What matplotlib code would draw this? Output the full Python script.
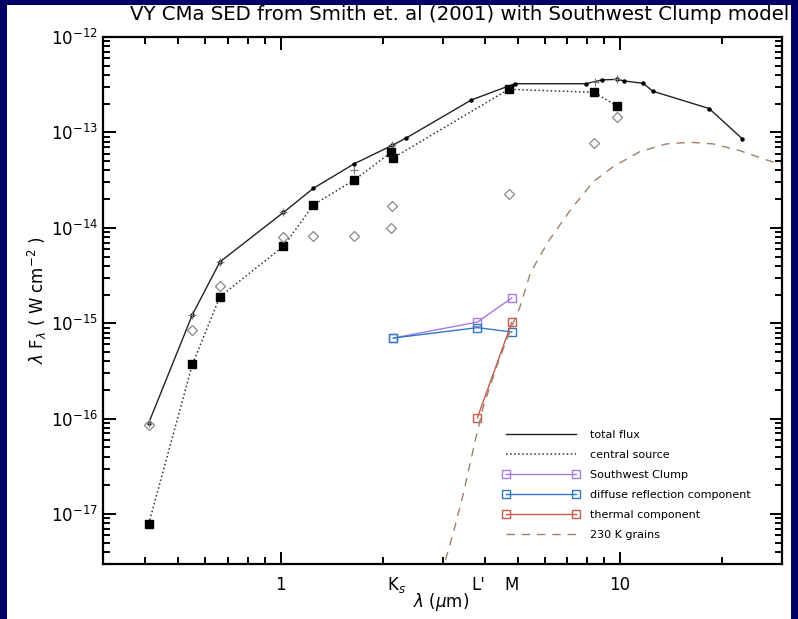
"""VY CMa SED (Smith et al. 2001) with the Southwest Clump model components."""
import matplotlib
matplotlib.use("Agg")
import matplotlib.pyplot as plt
from matplotlib.patches import Rectangle
from matplotlib.ticker import LogLocator, NullFormatter, FixedLocator, FixedFormatter

# total flux (solid line with small dots), microns / W cm^-2
tot_wl = [0.409, 0.55, 0.663, 1.02, 1.25, 1.65, 2.13, 2.34, 3.65, 4.9,
          7.94, 8.84, 9.78, 10.3, 11.7, 12.5, 18.3, 22.9]
tot_f = [9.0e-17, 1.23e-15, 4.4e-15, 1.45e-14, 2.6e-14, 4.7e-14, 7.3e-14,
         8.7e-14, 2.19e-13, 3.24e-13, 3.24e-13, 3.55e-13, 3.6e-13, 3.46e-13,
         3.27e-13, 2.7e-13, 1.78e-13, 8.6e-14]

# model total (grey crosses)
plus_wl = [0.409, 0.55, 0.663, 1.02, 1.65, 2.13, 8.44, 9.78]
plus_f = [9.0e-17, 1.23e-15, 4.4e-15, 1.45e-14, 4.05e-14, 7.3e-14, 3.4e-13, 3.6e-13]

# central source (filled squares, dotted)
cs_wl = [0.409, 0.55, 0.663, 1.02, 1.25, 1.65, 2.12, 2.14, 4.7, 8.4, 9.78]
cs_f = [7.9e-18, 3.7e-16, 1.9e-15, 6.4e-15, 1.74e-14, 3.18e-14, 6.2e-14,
        5.37e-14, 2.83e-13, 2.63e-13, 1.89e-13]

# extended / scattered light (open grey diamonds)
dia_wl = [0.409, 0.55, 0.663, 1.02, 1.25, 1.65, 2.13, 2.12, 4.7, 8.4, 9.78]
dia_f = [8.5e-17, 8.5e-16, 2.47e-15, 8.1e-15, 8.3e-15, 8.3e-15, 1.71e-14,
         1.0e-14, 2.27e-14, 7.7e-14, 1.44e-13]

# Southwest Clump model at Ks, L', M
sw_wl = [2.15, 3.8, 4.8]
sw_f = [7.0e-16, 1.03e-15, 1.84e-15]
refl_f = [7.0e-16, 9.0e-16, 8.1e-16]
therm_wl = [3.8, 4.8]
therm_f = [1.02e-16, 1.02e-15]

# 230 K grain emission
bb_wl = [3.06, 3.23, 3.46, 3.75, 3.96, 4.35, 4.8, 5.08, 5.45, 6.15, 7.21,
         8.35, 9.56, 11.45, 13.7, 16.1, 18.8, 22.5, 27.0, 30.0]
bb_f = [3.3e-18, 6.4e-18, 1.67e-17, 6.0e-17, 1.35e-16, 3.67e-16, 9.3e-16,
        1.5e-15, 3.4e-15, 7.2e-15, 1.61e-14, 3.05e-14, 4.39e-14, 6.3e-14,
        7.58e-14, 7.89e-14, 7.58e-14, 6.45e-14, 5.15e-14, 4.6e-14]

band_names = ["K$_s$", "L'", "M"]
band_wl = [2.2, 3.82, 4.8]

W, H = 798, 619
fig = plt.figure(figsize=(W / 100, H / 100), dpi=100, facecolor="#000066")
fig.patches.append(Rectangle((7 / W, 0), (791 - 7) / W, (H - 5) / H,
                             transform=fig.transFigure, facecolor="white",
                             edgecolor="none", zorder=-10))

ax = fig.add_axes([103 / W, 1 - 564 / H, (782 - 103) / W, (564 - 37) / H])
ax.set_zorder(1)
ax.set_xscale("log"); ax.set_yscale("log")
ax.set_xlim(0.3, 30); ax.set_ylim(3.0e-18, 1e-12)

purple, blue, red, brown = "#A57BE0", "#2F78C4", "#C9594C", "#A0806A"

ax.plot(tot_wl, tot_f, "-", color="#222222", lw=1.0, label="total flux")
ax.plot(tot_wl, tot_f, "o", color="black", ms=2.2, ls="none")
ax.plot(plus_wl, plus_f, "+", color="#777777", ms=5.5, mew=0.8, ls="none")
ax.plot(cs_wl, cs_f, ":", color="#333333", lw=1.1, label="central source")
ax.plot(cs_wl, cs_f, "s", color="black", ms=5.5, ls="none")
ax.plot(dia_wl, dia_f, "D", mfc="none", mec="#888888", ms=5, mew=0.9, ls="none")
ax.plot(sw_wl, sw_f, "-s", color=purple, mfc="none", ms=6, mew=1.0, lw=1.0,
        label="Southwest Clump")
ax.plot(sw_wl, refl_f, "-s", color=blue, mfc="none", ms=6, mew=1.0, lw=1.0,
        label="diffuse reflection component")
ax.plot(therm_wl, therm_f, "-s", color=red, mfc="none", ms=6, mew=1.0, lw=1.0,
        label="thermal component")
ax.plot(bb_wl, bb_f, "--", color=brown, lw=1.0, dashes=(6, 5),
        label="230 K grains")

# IDL-style inward ticks on all four sides
for s in ax.spines.values():
    s.set_linewidth(1.6)
ax.tick_params(which="both", direction="in", top=True, right=True, width=1.4,
               labelsize=12)
ax.tick_params(which="major", length=9)
ax.tick_params(which="minor", length=5)
ax.tick_params(axis="x", pad=9)
ax.xaxis.set_major_locator(FixedLocator([1, 10]))
ax.xaxis.set_major_formatter(FixedFormatter(["1", "10"]))
ax.xaxis.set_minor_locator(LogLocator(base=10, subs=range(2, 10), numticks=20))
ax.xaxis.set_minor_formatter(NullFormatter())
ax.yaxis.set_major_locator(LogLocator(base=10, numticks=12))
ax.yaxis.set_minor_locator(LogLocator(base=10, subs=range(2, 10), numticks=20))
ax.yaxis.set_minor_formatter(NullFormatter())

xt = ax.get_xaxis_transform()
for name, wl in zip(band_names, band_wl):
    ax.text(wl, -0.040, name, transform=xt, ha="center", va="center", fontsize=12)
ax.text(0.498, -0.072, r"$\lambda$ ($\mu$m)", transform=ax.transAxes,
        ha="center", va="center", fontsize=12)
fig.text(37 / W, 1 - 300 / H, r"$\lambda$ F$_\lambda$ ( W cm$^{-2}$ )",
         rotation=90, ha="center", va="center", fontsize=12)
fig.text(460 / W, 1 - 15 / H,
         "VY CMa SED from Smith et. al (2001) with Southwest Clump model",
         ha="center", va="center", fontsize=14.2)

ax.legend(loc="upper left", bbox_to_anchor=(503 / W, 1 - 430 / H),
          bbox_transform=fig.transFigure, frameon=False, fontsize=8,
          numpoints=2, handlelength=6.9, handletextpad=0.9, labelspacing=0.9,
          borderpad=0, borderaxespad=0)

fig.savefig("out.png", dpi=100, facecolor=fig.get_facecolor())
